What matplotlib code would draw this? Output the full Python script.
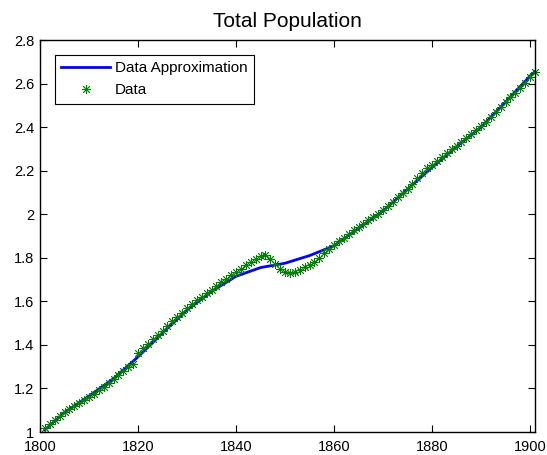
import numpy as np
import matplotlib
matplotlib.use('Agg')
import matplotlib.pyplot as plt
from matplotlib.ticker import FormatStrFormatter

# yearly data, 1801-1901
years = list(range(1801, 1902))
population = [
    1.020, 1.038, 1.056, 1.075, 1.090, 1.104, 1.118, 1.133, 1.148, 1.162,
    1.176, 1.192, 1.208, 1.225, 1.242, 1.262, 1.282, 1.298, 1.312, 1.365,
    1.385, 1.405, 1.425, 1.444, 1.465, 1.488, 1.508, 1.528, 1.548, 1.568,
    1.587, 1.605, 1.622, 1.638, 1.654, 1.670, 1.687, 1.704, 1.720, 1.735,
    1.750, 1.765, 1.780, 1.795, 1.808, 1.815, 1.795, 1.772, 1.750, 1.735,
    1.728, 1.735, 1.745, 1.756, 1.767, 1.780, 1.800, 1.820, 1.840, 1.858,
    1.876, 1.893, 1.910, 1.926, 1.942, 1.957, 1.972, 1.988, 2.003, 2.020,
    2.038, 2.057, 2.077, 2.097, 2.117, 2.140, 2.165, 2.190, 2.212, 2.228,
    2.245, 2.262, 2.280, 2.298, 2.315, 2.333, 2.352, 2.370, 2.388, 2.406,
    2.425, 2.445, 2.470, 2.494, 2.515, 2.537, 2.558, 2.580, 2.604, 2.630,
    2.655,
]

# smooth approximation, sampled every 5 years
approx_years = [1801, 1805, 1810, 1815, 1820, 1825, 1830, 1835, 1840, 1845,
                1850, 1855, 1860, 1865, 1870, 1875, 1880, 1885, 1890, 1895,
                1900, 1901]
approx_vals = [1.010, 1.090, 1.165, 1.245, 1.345, 1.455, 1.560, 1.645, 1.715,
               1.755, 1.775, 1.810, 1.855, 1.935, 2.015, 2.115, 2.215, 2.310,
               2.400, 2.515, 2.635, 2.655]

plt.rcParams['font.family'] = ['Liberation Sans', 'DejaVu Sans']

fig = plt.figure(figsize=(5.47, 4.55), dpi=100)
ax = fig.add_axes([40 / 547, 23 / 455, 495 / 547, 392 / 455])

ax.plot(approx_years, approx_vals, '-', color=(0, 0, 1), lw=2,
        label='Data Approximation')
ax.plot(years, population, linestyle='none', marker=(8, 2, 0), ms=6.5,
        mew=0.6, color=(0, 0.5, 0), label='Data', clip_on=False)

ax.set_xlim(1800, 1901)
ax.set_ylim(1, 2.8)
ax.set_xticks(np.arange(1800, 1901, 20))
ax.set_yticks(np.arange(1.0, 2.81, 0.2))
ax.yaxis.set_major_formatter(FormatStrFormatter('%g'))
ax.tick_params(direction='in', length=5, width=0.8, top=True, right=True,
               labelsize=10.5)
ax.tick_params(axis='x', pad=6)
ax.tick_params(axis='y', pad=4)
for s in ax.spines.values():
    s.set_linewidth(1)

ax.set_title('Total Population', fontsize=15, pad=9)

leg = ax.legend(loc='upper left', fancybox=False, edgecolor='black',
                fontsize=11, borderaxespad=0.95, handlelength=3.2,
                handletextpad=0.3, labelspacing=0.5, borderpad=0.45,
                framealpha=1)
leg.get_frame().set_linewidth(0.8)

fig.savefig('out.png', dpi=100)
